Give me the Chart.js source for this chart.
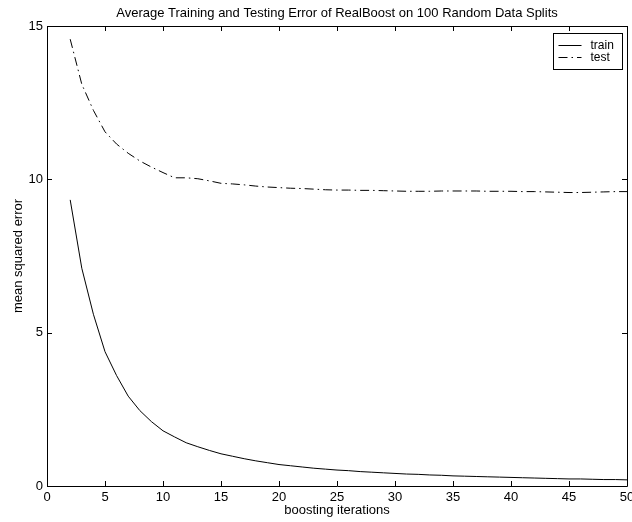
<!DOCTYPE html>
<html>
<head>
<meta charset="utf-8">
<title>RealBoost error</title>
<script src="https://cdn.jsdelivr.net/npm/chart.js@4.4.1/dist/chart.umd.min.js"></script>
<style>
  html, body { margin: 0; padding: 0; background: #fff; }
  #chart { display: block; }
</style>
</head>
<body>
<canvas id="chart" width="632" height="522"></canvas>
<script>
// boosting iterations and the averaged errors at each one
const iterations = [2, 3, 4, 5, 6, 7, 8, 9, 10, 11, 12, 13, 14, 15, 16, 17, 18, 19, 20, 21, 22, 23, 24, 25, 26,
                    27, 28, 29, 30, 31, 32, 33, 34, 35, 36, 37, 38, 39, 40, 41, 42, 43, 44, 45, 46, 47, 48, 49, 50];
const trainError = [9.33, 7.1, 5.6, 4.38, 3.6, 2.93, 2.46, 2.1, 1.8, 1.6, 1.41, 1.28, 1.16, 1.05, 0.97, 0.89, 0.82, 0.76, 0.7,
                    0.66, 0.62, 0.58, 0.55, 0.52, 0.5, 0.47, 0.45, 0.43, 0.41, 0.39, 0.38, 0.36, 0.35, 0.33, 0.32, 0.31,
                    0.3, 0.29, 0.28, 0.27, 0.26, 0.25, 0.24, 0.23, 0.23, 0.22, 0.21, 0.21, 0.2];
const testError = [14.57, 13.1, 12.25, 11.55, 11.15, 10.85, 10.6, 10.4, 10.22, 10.05, 10.05, 10.02, 9.95, 9.87, 9.85, 9.82,
                   9.78, 9.75, 9.73, 9.71, 9.7, 9.68, 9.66, 9.65, 9.65, 9.64, 9.64, 9.63, 9.62, 9.61, 9.61, 9.61, 9.62,
                   9.62, 9.62, 9.62, 9.61, 9.61, 9.61, 9.6, 9.6, 9.59, 9.58, 9.57, 9.57, 9.58, 9.59, 9.6, 9.6];
const xTicks = [0, 5, 10, 15, 20, 25, 30, 35, 40, 45, 50];
const yTicks = [0, 5, 10, 15];

const FONT = '"Liberation Sans", Arial, Helvetica, sans-serif';
const toPoints = (ys) => ys.map((y, i) => ({ x: iterations[i], y: y }));

// matlab style frame: box round the axes, inward ticks on all four sides, boxed legend
const matlabFrame = {
    id: 'matlabFrame',
    afterDraw(chart) {
        const { ctx, chartArea: a, scales } = chart;
        const tl = 5;
        ctx.save();
        ctx.strokeStyle = '#000';
        ctx.lineWidth = 1;
        ctx.beginPath();
        ctx.rect(Math.round(a.left) + 0.5, Math.round(a.top) + 0.5,
                 Math.round(a.right - a.left), Math.round(a.bottom - a.top));
        xTicks.forEach(v => {
            const px = Math.round(scales.x.getPixelForValue(v)) + 0.5;
            ctx.moveTo(px, a.bottom); ctx.lineTo(px, a.bottom - tl);
            ctx.moveTo(px, a.top); ctx.lineTo(px, a.top + tl);
        });
        yTicks.forEach(v => {
            const py = Math.round(scales.y.getPixelForValue(v)) + 0.5;
            ctx.moveTo(a.left, py); ctx.lineTo(a.left + tl, py);
            ctx.moveTo(a.right, py); ctx.lineTo(a.right - tl, py);
        });
        ctx.stroke();

        // legend
        const w = 69, h = 36;
        const lx = Math.round(a.right - 5 - w) + 0.5, ly = Math.round(a.top + 7) + 0.5;
        ctx.fillStyle = '#fff';
        ctx.fillRect(lx, ly, w, h);
        ctx.strokeRect(lx, ly, w, h);
        ctx.font = '12px ' + FONT;
        ctx.textBaseline = 'middle';
        ctx.textAlign = 'left';
        chart.data.datasets.forEach((ds, i) => {
            const ry = Math.round(ly + 11 + i * 12.5) + 0.5;
            ctx.beginPath();
            ctx.setLineDash(ds.borderDash || []);
            ctx.moveTo(lx + 5, ry); ctx.lineTo(lx + 28, ry);
            ctx.stroke();
            ctx.setLineDash([]);
            ctx.fillStyle = '#000';
            ctx.fillText(ds.label, lx + 37, ry);
        });
        ctx.restore();
    }
};

new Chart(document.getElementById('chart'), {
    type: 'line',
    data: {
        datasets: [{
            label: 'train',
            data: toPoints(trainError),
            borderColor: '#000',
            borderWidth: 1,
            pointRadius: 0,
            tension: 0,
            fill: false
        }, {
            label: 'test',
            data: toPoints(testError),
            borderColor: '#000',
            borderWidth: 1,
            borderDash: [9, 4, 1.5, 4],
            pointRadius: 0,
            tension: 0,
            fill: false
        }]
    },
    options: {
        responsive: false,
        animation: false,
        layout: { padding: { top: 0, left: 0, right: 5, bottom: 0 } },
        plugins: {
            legend: { display: false },
            tooltip: { enabled: false },
            title: {
                display: true,
                fullSize: false,
                text: 'Average Training and Testing Error of RealBoost on 100 Random Data Splits',
                color: '#000',
                font: { family: FONT, size: 13, weight: 'normal' },
                padding: { top: 5.2, bottom: 5.2 }
            }
        },
        scales: {
            x: {
                type: 'linear',
                min: 0,
                max: 50,
                grid: { display: false, drawTicks: false },
                border: { display: false },
                ticks: { stepSize: 5, padding: 3.2, color: '#000', font: { family: FONT, size: 13 } },
                title: {
                    display: true,
                    text: 'boosting iterations',
                    color: '#000',
                    font: { family: FONT, size: 13 },
                    padding: { top: 0, bottom: 4.2 }
                },
                afterFit(s) { s.height = 36; s.paddingLeft = 0; s.paddingRight = 0; }
            },
            y: {
                min: 0,
                max: 15,
                grid: { display: false, drawTicks: false },
                border: { display: false },
                ticks: { stepSize: 5, padding: 4, color: '#000', font: { family: FONT, size: 13 } },
                title: {
                    display: true,
                    text: 'mean squared error',
                    color: '#000',
                    font: { family: FONT, size: 13 },
                    padding: { top: 10.2, bottom: 0 }
                },
                afterFit(s) { s.width = 47; s.paddingTop = 0; s.paddingBottom = 0; }
            }
        }
    },
    plugins: [matlabFrame]
});
</script>
</body>
</html>
